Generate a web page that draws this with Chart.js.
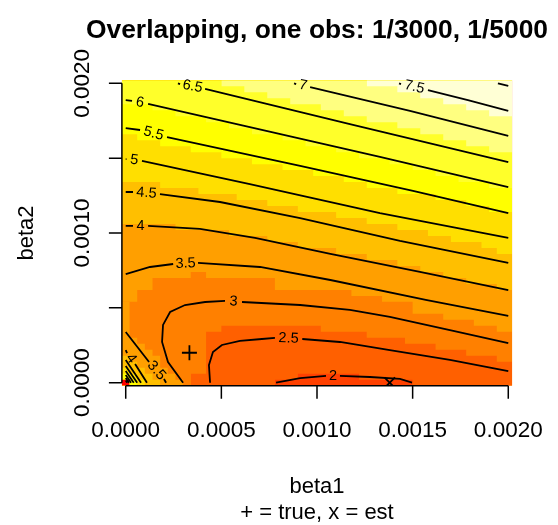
<!DOCTYPE html>
<html>
<head>
<meta charset="utf-8">
<script src="https://cdn.jsdelivr.net/npm/chart.js@4.4.1/dist/chart.umd.min.js"></script>
<style>
  html, body { margin: 0; padding: 0; background: #fff; }
  canvas { display: block; }
</style>
</head>
<body>
<canvas id="chart" width="558" height="525"></canvas>
<script>
// all beta1 / beta2 coordinates below are in units of 1e-4
const UNIT = 1e-4;

const xTicks = [0, 0.0005, 0.001, 0.0015, 0.002];
const xTickLabels = ["0.0000", "0.0005", "0.0010", "0.0015", "0.0020"];
const yTicks = [0, 0.0005, 0.001, 0.0015, 0.002];
const yTickLabels = ["0.0000", "", "0.0010", "", "0.0020"];

const truePoint = [0.000333, 0.0002];
const estPoint = [0.00138, 0];

// contour lines: each level is a list of pieces, each piece a list of
// segments; a label sits in the gap between two segments of a piece
const levels = [2, 2.5, 3, 3.5, 4, 4.5, 5, 5.5, 6, 6.5, 7, 7.5, 8];
const c2 = [
  [[[7.86, 0], [9.12, 0.31], [10.47, 0.45]],
   [[11.20, 0.45], [12.77, 0.38], [14.34, 0.25], [14.97, 0]]]
];
const c2_5 = [
  [[[4.41, 0], [4.35, 1.18], [4.56, 2.05], [5.03, 2.52], [5.97, 2.79], [7.12, 2.92], [7.80, 2.99]],
   [[9.23, 2.92], [11.20, 2.72], [13.81, 2.18], [16.95, 1.52], [20.0, 0.78]]]
];
const c3 = [
  [[[3.0, 0], [2.21, 1.38], [1.90, 2.72], [1.95, 3.86], [2.32, 4.72], [3.10, 5.19], [4.15, 5.39], [5.19, 5.46]],
   [[6.08, 5.39], [9.12, 5.19], [11.72, 4.86], [13.81, 4.39], [16.95, 3.52], [20.0, 2.65]]]
];
const c3_5 = [
  [[[0, 7.26], [1.27, 7.73], [2.48, 7.93]],
   [[3.78, 8.00], [7.02, 7.73], [10.70, 6.86], [15.75, 5.52], [20.0, 4.46]]],
  [[[0, 3.39], [1.22, 1.38]], [[2.0, 0.25], [2.11, 0]]]
];
const c4 = [
  [[[0, 10.47], [0.38, 10.47]],
   [[1.17, 10.47], [3.88, 10.27], [6.76, 9.67], [10.70, 8.60], [15.38, 7.40], [20.0, 6.19]]],
  [[[0, 2.18], [0.07, 1.98]], [[0.49, 1.25], [1.11, 0]]]
];
const c4_5 = [
  [[[0, 12.74], [0.38, 12.74]],
   [[1.79, 12.60], [4.93, 12.07], [9.12, 11.00], [14.34, 9.47], [20.0, 8.00]]],
  [[[0, 1.52], [0.80, 0]]]
];
const c5 = [
  [[[0, 14.94], [0.04, 14.94]],
   [[0.85, 14.81], [6.49, 13.27], [13.29, 11.33], [20.0, 9.67]]],
  [[[0, 1.12], [0.60, 0]]]
];
const c5_5 = [
  [[[0, 17.01], [0.75, 16.88]],
   [[2.16, 16.41], [9.12, 14.48], [15.02, 12.81], [20.0, 11.33]]],
  [[[0, 0.78], [0.42, 0]]]
];
const c6 = [
  [[[0, 18.88], [0.33, 18.82]],
   [[1.17, 18.62], [6.49, 17.08], [13.29, 15.08], [20.0, 13.07]]],
  [[[0, 0.51], [0.28, 0]]]
];
const c6_5 = [
  [[[2.73, 20.0], [2.84, 19.95]],
   [[4.15, 19.62], [11.72, 17.28], [20.0, 14.74]]],
  [[[0, 0.31], [0.17, 0]]]
];
const c7 = [
  [[[8.80, 20.0], [8.91, 19.95]],
   [[9.64, 19.75], [14.86, 18.15], [20.0, 16.48]]],
  [[[0, 0.15], [0.08, 0]]]
];
const c7_5 = [
  [[[14.29, 20.0], [14.39, 19.95]],
   [[15.80, 19.55], [17.89, 18.88], [20.0, 18.15]]]
];
const c8 = [
  [[[19.46, 20.0], [20.0, 19.82]]]
];
const contourPaths = [c2, c2_5, c3, c3_5, c4, c4_5, c5, c5_5, c6, c6_5, c7, c7_5, c8];

// edges of the colour classes of the image (cell staircase)
// upper*: class above the edge, lower*/corner*: class below the edge
const upper6 = [[-0.2, 5.4], [0.6, 6.2], [1.4, 7.0], [3.4, 7.4], [4.2, 7.0], [7.8, 6.2], [11.8, 5.8], [13.4, 5.4], [15.0, 4.6], [16.6, 4.2], [18.2, 3.8], [19.4, 3.4], [20.2, 3.4]];
const upper7 = [[-0.2, 10.6], [2.6, 10.2], [5.4, 9.8], [7.4, 9.4], [9.0, 9.0], [11.0, 8.6], [12.6, 8.2], [14.2, 7.8], [15.4, 7.4], [16.6, 7.0], [17.8, 6.6], [19.4, 6.2], [20.2, 6.2]];
const upper8 = [[-0.2, 13.4], [1.8, 13.0], [3.8, 12.6], [5.8, 12.2], [7.4, 11.8], [9.0, 11.4], [11.0, 11.0], [12.6, 10.6], [14.2, 10.2], [15.8, 9.8], [17.0, 9.4], [18.6, 9.0], [19.4, 8.6], [20.2, 8.6]];
const upper9 = [[-0.2, 16.6], [0.6, 16.2], [1.8, 15.8], [3.4, 15.4], [5.0, 15.0], [6.6, 14.6], [8.2, 14.2], [9.8, 13.8], [11.4, 13.4], [12.6, 13.0], [14.2, 12.6], [16.2, 12.2], [17.8, 11.8], [19.0, 11.4], [20.2, 11.4]];
const upper10 = [[-0.2, 18.6], [1.4, 18.2], [2.6, 17.8], [4.2, 17.4], [5.4, 17.0], [6.6, 16.6], [8.2, 16.2], [9.4, 15.8], [11.0, 15.4], [12.2, 15.0], [13.8, 14.6], [15.0, 14.2], [16.2, 13.8], [17.4, 13.4], [19.0, 13.0], [20.2, 13.0]];
const upper11 = [[5.0, 19.8], [6.2, 19.4], [7.4, 19.0], [8.6, 18.6], [10.2, 18.2], [11.4, 17.8], [12.6, 17.4], [14.2, 17.0], [15.4, 16.6], [16.6, 16.2], [17.8, 15.8], [19.0, 15.4], [20.2, 15.4]];
const upper12 = [[12.6, 19.8], [14.2, 19.4], [15.4, 19.0], [16.6, 18.6], [17.8, 18.2], [19.0, 17.8], [20.2, 17.8]];
const lower4 = [[3.4, 0.6], [4.2, 3.4], [5.0, 3.8], [10.2, 3.4], [12.6, 3.0], [14.6, 2.6], [16.2, 2.2], [17.8, 1.8], [19.4, 1.4], [20.2, 1.4]];
const lower3 = [[7.8, 0.2], [9.0, 0.6], [12.2, 0.2], [15.0, 0.2]];
const corner6 = [[-0.2, 5.4], [0.2, 3.0], [0.6, 2.6], [1.0, 2.2], [1.4, 1.8], [1.8, 1.0], [2.2, 0.6], [2.6, 0.2], [3.0, 0.2]];
const corner7 = [[-0.2, 1.8], [0.2, 1.4], [0.6, 1.0], [1.0, 0.6], [1.4, 0.2], [1.8, 0.2]];
const corner8 = [[-0.2, 1.0], [0.2, 0.6], [0.6, 0.2], [1.0, 0.2]];
const corner9 = [[-0.2, 0.6], [0.2, 0.2], [0.6, 0.2]];
const corner1 = [[-0.2, 0.2], [0.2, 0.2]];

// heat.colors(12)
const heat = ["#FF0000", "#FF2000", "#FF4000", "#FF6000", "#FF8000", "#FF9F00",
              "#FFBF00", "#FFDF00", "#FFFF00", "#FFFF2A", "#FFFF80", "#FFFFD5"];

const bands = [
  [upper6, 6, "end"], [upper7, 7, "end"], [upper8, 8, "end"], [upper9, 9, "end"],
  [upper10, 10, "end"], [upper11, 11, "end"], [upper12, 12, "end"],
  [lower4, 4, "start"], [lower3, 3, "start"],
  [corner6, 6, "start"], [corner7, 7, "start"], [corner8, 8, "start"],
  [corner9, 9, "start"], [corner1, 1, "start"]
];

const FONT = '"Liberation Sans", Arial, Helvetica, sans-serif';

const toXY = pts => pts.map(p => ({ x: p[0] * UNIT, y: p[1] * UNIT }));

function joinSegments(pieces) {
  const out = [];
  pieces.forEach(piece => piece.forEach(seg => {
    if (out.length) out.push({ x: null, y: null });
    out.push(...toXY(seg));
  }));
  return out;
}

const datasets = [];
bands.forEach((b, i) => {
  datasets.push({
    data: toXY(b[0]),
    stepped: true,
    fill: b[2],
    backgroundColor: heat[b[1] - 1],
    borderWidth: 0,
    pointRadius: 0,
    order: 1000 - i
  });
});
contourPaths.forEach(pieces => {
  datasets.push({
    data: joinSegments(pieces),
    borderColor: "#000",
    borderWidth: 1.8,
    pointRadius: 0,
    fill: false,
    tension: 0,
    order: 10
  });
});
datasets.push({
  data: [{ x: truePoint[0], y: truePoint[1] }],
  showLine: false,
  pointStyle: "cross",
  pointRadius: 7.5,
  pointBorderWidth: 1.8,
  pointBorderColor: "#000",
  order: 0
});
datasets.push({
  data: [{ x: estPoint[0], y: estPoint[1] }],
  showLine: false,
  pointStyle: "crossRot",
  pointRadius: 7.5,
  pointBorderWidth: 1.8,
  pointBorderColor: "#000",
  order: 0
});

// image background (the 3-3.3 class) under the coloured bands
const imageBackground = {
  id: "imageBackground",
  beforeDatasetsDraw(chart) {
    const { ctx, chartArea: a } = chart;
    ctx.save();
    ctx.fillStyle = heat[4];
    ctx.fillRect(a.left, a.top, a.right - a.left, a.bottom - a.top);
    ctx.restore();
  }
};

// level labels, set in the gaps of the contour lines
const contourLabels = {
  id: "contourLabels",
  afterDatasetsDraw(chart) {
    const { ctx, scales: { x, y } } = chart;
    ctx.save();
    ctx.fillStyle = "#000";
    ctx.font = "14.5px " + FONT;
    ctx.textAlign = "center";
    ctx.textBaseline = "middle";
    contourPaths.forEach((pieces, k) => {
      pieces.forEach(piece => {
        for (let i = 0; i + 1 < piece.length; i++) {
          const p = piece[i][piece[i].length - 1];
          const q = piece[i + 1][0];
          const x0 = x.getPixelForValue(p[0] * UNIT), y0 = y.getPixelForValue(p[1] * UNIT);
          const x1 = x.getPixelForValue(q[0] * UNIT), y1 = y.getPixelForValue(q[1] * UNIT);
          let ang = Math.atan2(y1 - y0, x1 - x0);
          if (ang > Math.PI / 2) ang -= Math.PI;
          if (ang < -Math.PI / 2) ang += Math.PI;
          ctx.save();
          ctx.translate((x0 + x1) / 2, (y0 + y1) / 2);
          ctx.rotate(ang);
          ctx.fillText(String(levels[k]), 0, 0);
          ctx.restore();
        }
      });
    });
    ctx.restore();
  }
};

// base-graphics style axes and titles
const baseAxes = {
  id: "baseAxes",
  afterDraw(chart) {
    const { ctx, chartArea: a, scales: { x, y } } = chart;
    ctx.save();
    ctx.strokeStyle = "#000";
    ctx.fillStyle = "#000";
    ctx.lineWidth = 1.5;

    ctx.beginPath();
    ctx.moveTo(x.getPixelForValue(xTicks[0]), a.bottom);
    ctx.lineTo(x.getPixelForValue(xTicks[xTicks.length - 1]), a.bottom);
    xTicks.forEach(v => {
      const px = x.getPixelForValue(v);
      ctx.moveTo(px, a.bottom);
      ctx.lineTo(px, a.bottom + 13);
    });
    ctx.moveTo(a.left, y.getPixelForValue(yTicks[0]));
    ctx.lineTo(a.left, y.getPixelForValue(yTicks[yTicks.length - 1]));
    yTicks.forEach(v => {
      const py = y.getPixelForValue(v);
      ctx.moveTo(a.left, py);
      ctx.lineTo(a.left - 13, py);
    });
    ctx.stroke();

    ctx.font = "22.5px " + FONT;
    ctx.textAlign = "center";
    ctx.textBaseline = "alphabetic";
    xTicks.forEach((v, i) => {
      ctx.fillText(xTickLabels[i], x.getPixelForValue(v), a.bottom + 51);
    });
    yTicks.forEach((v, i) => {
      if (!yTickLabels[i]) return;
      ctx.save();
      ctx.translate(a.left - 32.6, y.getPixelForValue(v));
      ctx.rotate(-Math.PI / 2);
      ctx.fillText(yTickLabels[i], 0, 0);
      ctx.restore();
    });

    const cx = (a.left + a.right) / 2;
    const cy = (a.top + a.bottom) / 2;
    ctx.font = "22px " + FONT;
    ctx.fillText("beta1", cx, a.bottom + 107);
    ctx.fillText("+ = true, x = est", cx, a.bottom + 133);
    ctx.save();
    ctx.translate(a.left - 88.6, cy);
    ctx.rotate(-Math.PI / 2);
    ctx.fillText("beta2", 0, 0);
    ctx.restore();

    ctx.font = "bold 26.4px " + FONT;
    ctx.fillText("Overlapping, one obs: 1/3000, 1/5000", cx, 38);
    ctx.restore();
  }
};

new Chart(document.getElementById("chart").getContext("2d"), {
  type: "line",
  data: { datasets: datasets },
  options: {
    responsive: false,
    animation: false,
    devicePixelRatio: 1,
    events: [],
    layout: {
      padding: { left: 121.9, right: 45.9, top: 80.3, bottom: 139.3 }
    },
    scales: {
      x: { type: "linear", min: -0.00002, max: 0.00202, display: false },
      y: { type: "linear", min: -0.00002, max: 0.00202, display: false }
    },
    plugins: {
      legend: { display: false },
      tooltip: { enabled: false },
      title: { display: false }
    }
  },
  plugins: [imageBackground, contourLabels, baseAxes]
});
</script>
</body>
</html>
